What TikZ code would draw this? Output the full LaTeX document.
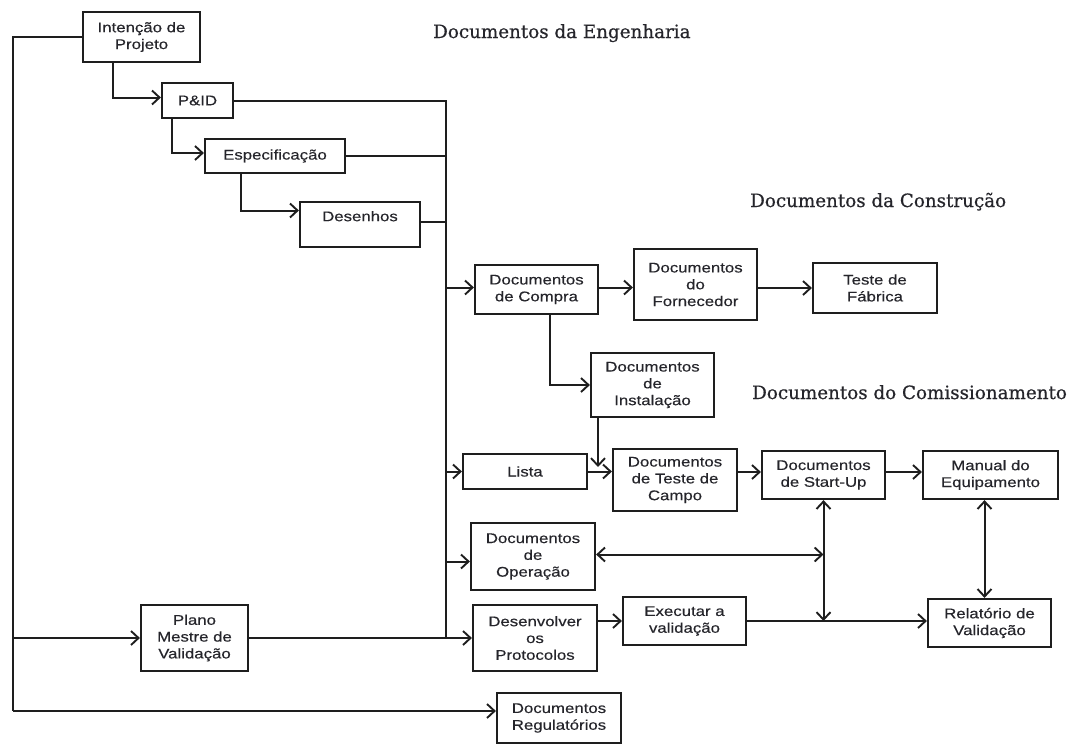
\documentclass[tikz,border=0pt]{standalone}
\usepackage{fontspec}
\usetikzlibrary{arrows.meta}
\newfontfamily\boxfont[FakeStretch=1.2,FakeBold=0.3]{Liberation Sans}
\newfontfamily\titlefont[FakeBold=0.6]{DejaVu Serif}
\definecolor{ink}{HTML}{1E1E1E}
\definecolor{tink}{HTML}{25252B}
\tikzset{
  box/.style={draw=ink, line width=2.2pt, fill=white, inner sep=0pt, align=center,
    font=\boxfont\fontsize{14}{16.8}\selectfont, text=tink},
  link/.style={draw=ink, line width=2pt},
  arr/.style={link, -{Straight Barb[length=7.5pt,width=14pt,line width=1.9pt]}},
  darr/.style={link, {Straight Barb[length=7.5pt,width=14pt,line width=1.9pt]}-{Straight Barb[length=7.5pt,width=14pt,line width=1.9pt]}},
  title/.style={anchor=base west, inner sep=0pt, font=\titlefont\fontsize{18.3}{22}\selectfont, text=tink}
}
\begin{document}
\begin{tikzpicture}[x=1pt,y=-1pt]
\useasboundingbox (0,0) rectangle (1076,744);
\fill[white] (0,0) rectangle (1076,744);

% titles
\node[title] (tEng) at (433,38) {Documentos da Engenharia};
\node[title] (tCon) at (750,207) {Documentos da Construção};
\node[title] (tCom) at (752,399) {Documentos do Comissionamento};

% boxes
\node[box, minimum width=117pt, minimum height=50pt] (intent) at (141.5,37) {Intenção de\\Projeto};
\node[box, minimum width=71pt, minimum height=35pt] (pid) at (197.5,100.5) {P\&ID};
\node[box, minimum width=140pt, minimum height=34pt] (espec) at (275,156) {Especificação};
\node[box, minimum width=120pt, minimum height=45pt] (desenhos) at (360,224.5) {Desenhos\\\mbox{}};
\node[box, minimum width=123pt, minimum height=49pt] (compra) at (536.5,289.5) {Documentos\\de Compra};
\node[box, minimum width=123pt, minimum height=71pt] (fornec) at (695.5,284.5) {Documentos\\do\\Fornecedor};
\node[box, minimum width=124pt, minimum height=50pt] (fabrica) at (875,288) {Teste de\\Fábrica};
\node[box, minimum width=123pt, minimum height=64pt] (instal) at (652.5,385) {Documentos\\de\\Instalação};
\node[box, minimum width=124pt, minimum height=35pt] (lista) at (525,471.5) {Lista};
\node[box, minimum width=124pt, minimum height=62pt] (teste) at (675,480) {Documentos\\de Teste de\\Campo};
\node[box, minimum width=123pt, minimum height=48pt] (startup) at (823.5,475) {Documentos\\de Start-Up};
\node[box, minimum width=135pt, minimum height=48pt] (manual) at (990.5,475) {Manual do\\Equipamento};
\node[box, minimum width=124pt, minimum height=67pt] (operacao) at (533,556.5) {Documentos\\de\\Operação};
\node[box, minimum width=124pt, minimum height=66pt] (desenv) at (535,638) {Desenvolver\\os\\Protocolos};
\node[box, minimum width=123pt, minimum height=48pt] (executar) at (684.5,621) {Executar a\\validação};
\node[box, minimum width=123pt, minimum height=48pt] (relatorio) at (989.5,623) {Relatório de\\Validação};
\node[box, minimum width=107pt, minimum height=66pt] (plano) at (194.5,638) {Plano\\Mestre de\\Validação};
\node[box, minimum width=124pt, minimum height=50pt] (regul) at (559,718) {Documentos\\Regulatórios};

% helper coordinates
\coordinate (L1) at (13,37);
\coordinate (L2) at (13,711);
\coordinate (busx) at (446,0);
\coordinate (ih) at (598,467);

% left trunk
\draw[link] (intent.west) -- (L1) -- (L2);
\draw[arr] (L2) -- (L2 -| regul.west);
\draw[arr] (L1 |- plano.west) -- (plano.west);

% engineering chain
\draw[arr] ([xshift=-28.5pt]intent.south) |- ([yshift=3pt]pid.west);
\draw[arr] ([xshift=-25.5pt]pid.south) |- ([yshift=3pt]espec.west);
\draw[arr] ([xshift=-34pt]espec.south) |- ([yshift=14pt]desenhos.west);

% bus
\draw[link] (pid.east) -- (pid.east -| busx) -- (busx |- plano.east);
\draw[link] (espec.east) -- (espec.east -| busx);
\draw[link] ([yshift=3pt]desenhos.east) -- ([yshift=3pt]desenhos.east -| busx);
\draw[arr] ([yshift=2pt]compra.west -| busx) -- ([yshift=2pt]compra.west);
\draw[arr] (lista.west -| busx) -- (lista.west);
\draw[arr] ([yshift=-5pt]operacao.west -| busx) -- ([yshift=-5pt]operacao.west);
\draw[arr] (plano.east) -- (desenv.west);

% construction
\draw[arr] ([yshift=2pt]compra.east) -- ([yshift=2pt]compra.east -| fornec.west);
\draw[arr] (fabrica.west -| fornec.east) -- (fabrica.west);
\draw[arr] ([xshift=13.5pt]compra.south) |- (instal.west);
\draw[arr] ([xshift=-54.5pt]instal.south) -- (ih);

% commissioning
\draw[arr] (lista.east) -- (lista.east -| teste.west);
\draw[arr] ([yshift=3pt]startup.west -| teste.east) -- ([yshift=3pt]startup.west);
\draw[arr] ([yshift=3pt]startup.east) -- ([yshift=3pt]manual.west);
\draw[darr] (startup.south) -- (startup.south |- executar.east);
\draw[darr] ([yshift=2pt]operacao.east) -- ([yshift=2pt]operacao.east -| startup.south);
\draw[arr] (executar.east) -- (executar.east -| relatorio.west);
\draw[arr] (executar.west -| desenv.east) -- (executar.west);
\draw[darr] ([xshift=-6pt]manual.south) -- ([xshift=-6pt]manual.south |- relatorio.north);
\end{tikzpicture}
\end{document}
